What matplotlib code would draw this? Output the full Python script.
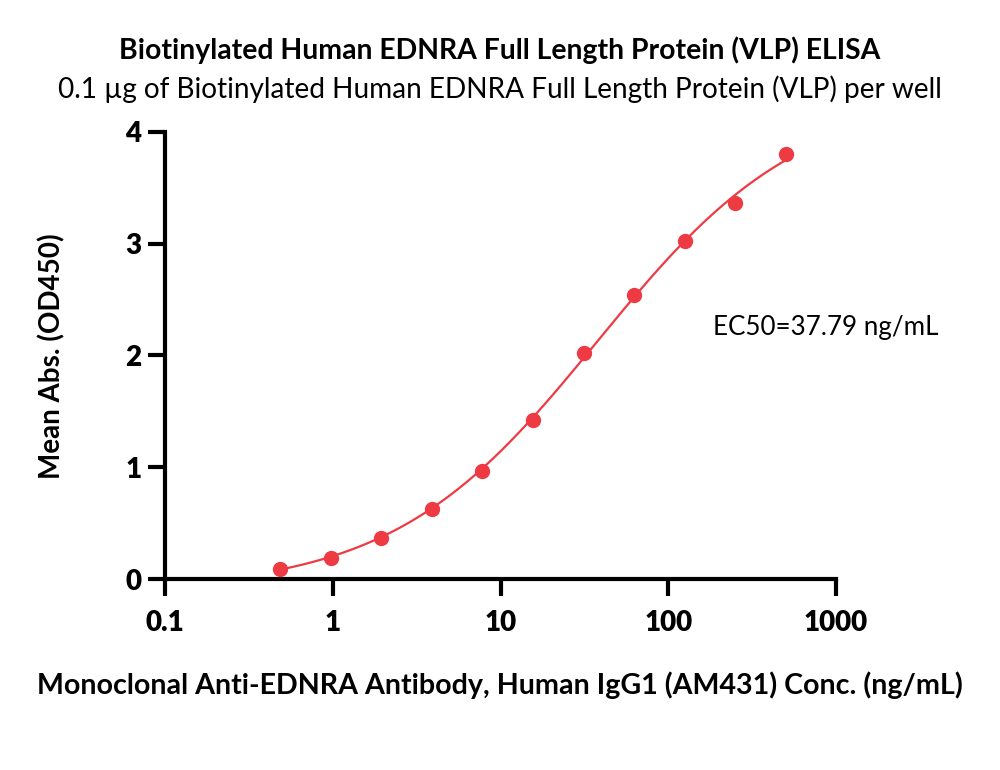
import matplotlib
matplotlib.use('Agg')
import matplotlib.pyplot as plt
import numpy as np

# antibody concentration (ng/mL) and mean OD450
conc = [0.488, 0.977, 1.95, 3.91, 7.81, 15.63, 31.25, 62.5, 125, 250, 500]
od450 = [0.09, 0.19, 0.37, 0.63, 0.97, 1.42, 2.02, 2.54, 3.02, 3.36, 3.80]
ec50 = 37.79

title = 'Biotinylated Human EDNRA Full Length Protein (VLP) ELISA'
subtitle = '0.1 \u00b5g of Biotinylated Human EDNRA Full Length Protein (VLP) per well'
xlabel = 'Monoclonal Anti-EDNRA Antibody, Human IgG1 (AM431) Conc. (ng/mL)'
ylabel = 'Mean Abs. (OD450)'
ec50_text = 'EC50=37.79 ng/mL'
xticks = [0.1, 1, 10, 100, 1000]
xtick_labels = ['0.1', '1', '10', '100', '1000']
yticks = [0, 1, 2, 3, 4]

red = '#EE3B43'
plt.rcParams['font.family'] = ['Lato', 'DejaVu Sans']


def four_pl(x, bottom, top, hill):
    return bottom + (top - bottom) / (1 + (ec50 / x) ** hill)


# crude least-squares 4PL fit with the EC50 held at the reported value
x = np.array(conc)
y = np.array(od450)
bottoms = np.linspace(-0.4, 0.3, 71)[:, None, None, None]
tops = np.linspace(3.6, 6.0, 121)[None, :, None, None]
hills = np.linspace(0.5, 1.5, 101)[None, None, :, None]
resid = four_pl(x[None, None, None, :], bottoms, tops, hills) - y
sse = (resid ** 2).sum(axis=-1)
i, j, k = np.unravel_index(np.argmin(sse), sse.shape)
b_fit, t_fit, h_fit = bottoms[i, 0, 0, 0], tops[0, j, 0, 0], hills[0, 0, k, 0]

fig = plt.figure(figsize=(10, 7.7), dpi=100)
ax = fig.add_axes([0.165, 0.248, 0.671, 0.581])

xs = np.logspace(np.log10(conc[0]), np.log10(conc[-1]), 300)
ax.plot(xs, four_pl(xs, b_fit, t_fit, h_fit), color=red, lw=1.6, clip_on=False)
ax.plot(conc, od450, 'o', color=red, ms=10, clip_on=False, zorder=3)

ax.set_xscale('log')
ax.set_xlim(0.1, 1000)
ax.set_ylim(0, 4)
ax.set_xticks(xticks)
ax.set_xticklabels(xtick_labels)
ax.set_yticks(yticks)
ax.minorticks_off()
for side in ['top', 'right']:
    ax.spines[side].set_visible(False)
for side in ['left', 'bottom']:
    ax.spines[side].set_linewidth(3)
ax.tick_params(axis='both', width=3, length=12, labelsize=20)
ax.tick_params(axis='x', pad=10)
ax.tick_params(axis='y', pad=5)
for lab in ax.get_xticklabels() + ax.get_yticklabels():
    lab.set_fontweight('heavy')

fig.text(0.5, 1 - 50 / 770, title, ha='center', va='center', fontsize=20.4, fontweight='bold')
fig.text(0.5, 1 - 89 / 770, subtitle, ha='center', va='center', fontsize=20.2)
fig.text(0.5, 1 - 685 / 770, xlabel, ha='center', va='center', fontsize=20.6, fontweight='bold')
fig.text(52 / 1000, 1 - 356 / 770, ylabel, ha='center', va='center', rotation=90,
         fontsize=20, fontweight='bold')
fig.text(713 / 1000, 1 - 327 / 770, ec50_text, ha='left', va='center', fontsize=18.7)

fig.savefig('out.png', dpi=100)
